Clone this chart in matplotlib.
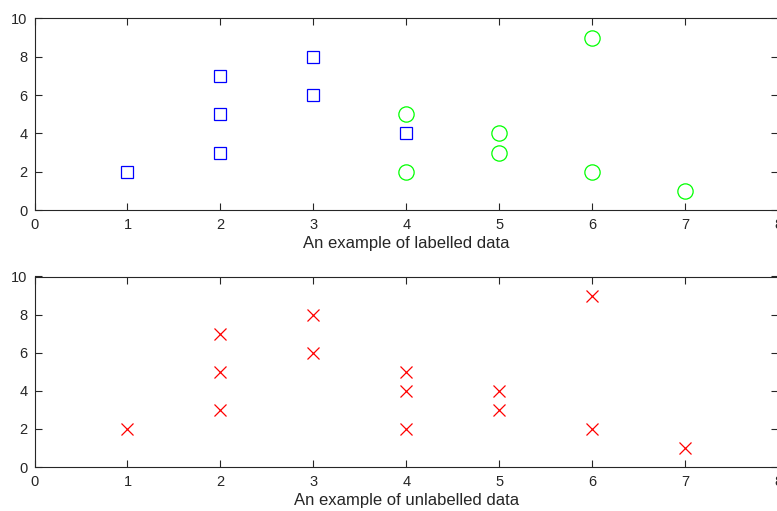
import matplotlib
matplotlib.use("Agg")
import matplotlib.pyplot as plt

plt.rcParams['font.family'] = ['Liberation Sans', 'DejaVu Sans']

# class A (blue squares) and class B (green circles)
xa = [1, 2, 2, 2, 3, 3, 4]
ya = [2, 3, 5, 7, 6, 8, 4]
xb = [4, 4, 5, 5, 6, 6, 7]
yb = [2, 5, 3, 4, 2, 9, 1]

x_all = xa + xb
y_all = ya + yb

W, H = 777, 511
fig = plt.figure(figsize=(W / 100, H / 100), dpi=100)


def make_axes(top, bottom):
    left, right = 34.5, 778.5
    ax = fig.add_axes([left / W, 1 - bottom / H, (right - left) / W, (bottom - top) / H])
    ax.set_xlim(0, 8)
    ax.set_ylim(0, 10)
    ax.set_xticks(range(0, 9))
    ax.set_yticks(range(0, 11, 2))
    ax.tick_params(direction='in', length=5, width=0.8, top=True, right=True,
                   labelsize=10.5, colors='#262626')
    ax.tick_params(axis='x', pad=6)
    ax.tick_params(axis='y', pad=5)
    for s in ax.spines.values():
        s.set_linewidth(0.8)
        s.set_color('#262626')
    return ax


ax1 = make_axes(18.5, 210)
ax1.plot(xa, ya, 's', color='blue', markerfacecolor='none', markersize=8.5, markeredgewidth=0.9)
ax1.plot(xb, yb, 'o', color='#00ff00', markerfacecolor='none', markersize=11, markeredgewidth=0.9)
ax1.set_xlabel('An example of labelled data', fontsize=12, color='#262626', labelpad=2.5)

ax2 = make_axes(276.5, 467)
ax2.plot(x_all, y_all, 'x', color='red', markersize=8, markeredgewidth=0.9)
ax2.set_xlabel('An example of unlabelled data', fontsize=12, color='#262626', labelpad=2.5)

fig.savefig('out.png', dpi=100)
